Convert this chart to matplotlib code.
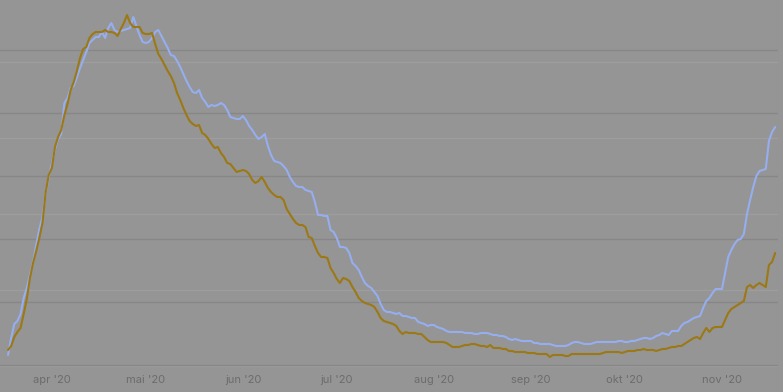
import matplotlib
matplotlib.use("Agg")
import matplotlib.pyplot as plt
import matplotlib.dates as mdates
from matplotlib.ticker import MultipleLocator
import pandas as pd

# ---- data (arbitrary units, axes unlabeled) ----
start_date = "2020-03-18"

gold_values = [
    15, 19, 28, 33, 37, 51, 66, 87, 102, 114, 127, 142, 172, 190, 197, 218, 228, 235, 250, 261,
    275, 283, 294, 307, 316, 318, 327, 331, 333, 333, 333, 335, 333, 333, 332, 329, 336, 342, 350, 342,
    338, 338, 338, 332, 331, 331, 332, 321, 311, 306, 300, 294, 289, 282, 272, 265, 257, 250, 244, 241,
    239, 240, 232, 230, 226, 221, 217, 218, 212, 208, 202, 201, 197, 193, 194, 195, 194, 191, 185, 182,
    184, 188, 183, 177, 173, 170, 168, 168, 165, 156, 151, 146, 142, 140, 140, 138, 128, 127, 119, 112,
    108, 108, 107, 97, 92, 86, 82, 87, 86, 84, 78, 73, 67, 64, 62, 61, 60, 58, 53, 47,
    44, 43, 42, 41, 39, 34, 31, 33, 32, 32, 32, 31, 31, 28, 25, 23, 23, 23, 23, 23,
    22, 20, 18, 18, 18, 19, 20, 20, 21, 21, 20, 19, 19, 18, 20, 17, 17, 17, 16, 16,
    14, 14, 13, 13, 13, 13, 12, 12, 12, 11, 11, 11, 11, 8, 10, 10, 10, 10, 9, 9,
    11, 11, 11, 11, 11, 11, 11, 11, 11, 11, 12, 13, 13, 13, 13, 13, 12, 13, 14, 14,
    14, 15, 15, 16, 15, 15, 15, 14, 15, 16, 16, 17, 18, 18, 19, 19, 21, 23, 25, 27,
    28, 26, 32, 37, 33, 37, 38, 38, 38, 45, 52, 56, 58, 60, 62, 64, 78, 80, 77, 80,
    82, 80, 78, 100, 103, 112,
]

blue_values = [
    11, 28, 42, 45, 52, 68, 78, 91, 104, 121, 137, 149, 172, 189, 202, 217, 227, 232, 263, 268,
    278, 280, 289, 298, 306, 314, 323, 326, 329, 329, 334, 328, 338, 343, 336, 334, 335, 336, 337, 338,
    349, 340, 331, 324, 323, 324, 328, 334, 336, 330, 324, 318, 311, 310, 305, 299, 292, 285, 279, 274,
    273, 276, 268, 264, 259, 261, 260, 261, 263, 261, 256, 249, 248, 247, 247, 250, 246, 240, 236, 231,
    227, 229, 232, 220, 211, 205, 204, 203, 200, 196, 189, 184, 180, 179, 179, 176, 175, 174, 164, 151,
    151, 150, 150, 136, 134, 128, 119, 119, 118, 113, 103, 100, 96, 89, 83, 80, 78, 74, 70, 62,
    56, 54, 54, 53, 52, 53, 50, 50, 49, 48, 48, 44, 43, 42, 40, 41, 41, 39, 38, 37,
    35, 34, 34, 34, 34, 34, 33, 33, 33, 32, 32, 33, 33, 33, 32, 31, 31, 30, 30, 29,
    27, 26, 27, 26, 25, 25, 25, 25, 23, 23, 22, 22, 22, 22, 21, 20, 20, 20, 20, 21,
    23, 24, 24, 23, 22, 22, 22, 23, 24, 24, 24, 24, 24, 24, 24, 25, 25, 24, 24, 25,
    25, 26, 27, 28, 28, 27, 28, 30, 31, 33, 32, 31, 35, 35, 35, 40, 43, 44, 46, 48,
    49, 50, 58, 65, 68, 73, 77, 77, 77, 93, 109, 116, 122, 126, 127, 132, 152, 166, 179, 190,
    195, 196, 197, 225, 234, 239,
]

month_ticks = ["2020-04-01", "2020-05-01", "2020-06-01", "2020-07-01",
               "2020-08-01", "2020-09-01", "2020-10-01", "2020-11-01"]
month_labels = ["apr '20", "mai '20", "jun '20", "jul '20",
                "aug '20", "sep '20", "okt '20", "nov '20"]

dates = pd.date_range(start_date, periods=len(gold_values), freq="D")

# ---- styling ----
BG = "#959595"
GOLD = "#9c7915"
BLUE = "#96aef0"
GRID_DARK = "#878787"
GRID_LIGHT = "#9d9d9d"
TEXT = "#6c6c6c"

plt.rcParams["font.family"] = ["Inter", "DejaVu Sans"]

W, H = 783, 392
fig = plt.figure(figsize=(W / 100, H / 100), dpi=100, facecolor=BG)
ax = fig.add_axes([0.0, (H - 372) / H, 778 / W, 372 / H])
ax2 = ax.twinx()

# ax2 (light grid) below, ax (dark grid + both lines) on top
ax2.set_zorder(0)
ax.set_zorder(1)
ax.patch.set_visible(False)
ax2.patch.set_facecolor(BG)

x0 = mdates.date2num(pd.Timestamp(start_date))
ax.set_xlim(x0 - 2.56, x0 + 245.9)
ax.set_ylim(-7, 365)
ax2.set_ylim(-6, 366)

ax.yaxis.set_major_locator(MultipleLocator(63))
ax2.yaxis.set_major_locator(MultipleLocator(76))
ax.grid(axis="y", color=GRID_DARK, linewidth=1.0)
ax2.grid(axis="y", color=GRID_LIGHT, linewidth=1.0)
ax.grid(axis="x", visible=False)
ax2.grid(axis="x", visible=False)

ax.plot(dates, blue_values, color=BLUE, linewidth=1.5, transform=ax2.transData,
        solid_joinstyle="round", solid_capstyle="round", zorder=3)
ax.plot(dates, gold_values, color=GOLD, linewidth=1.5,
        solid_joinstyle="round", solid_capstyle="round", zorder=4)

ax.set_xticks([mdates.date2num(pd.Timestamp(d)) for d in month_ticks])
ax.set_xticklabels(month_labels)
ax.tick_params(axis="x", length=0, pad=2, labelsize=8, labelcolor=TEXT)
ax.tick_params(axis="y", length=0, labelleft=False)
ax2.tick_params(axis="y", length=0, labelright=False)
ax2.tick_params(axis="x", length=0, labelbottom=False)

for a in (ax, ax2):
    for s in a.spines.values():
        s.set_visible(False)

fig.savefig("out.png", dpi=100, facecolor=BG)
